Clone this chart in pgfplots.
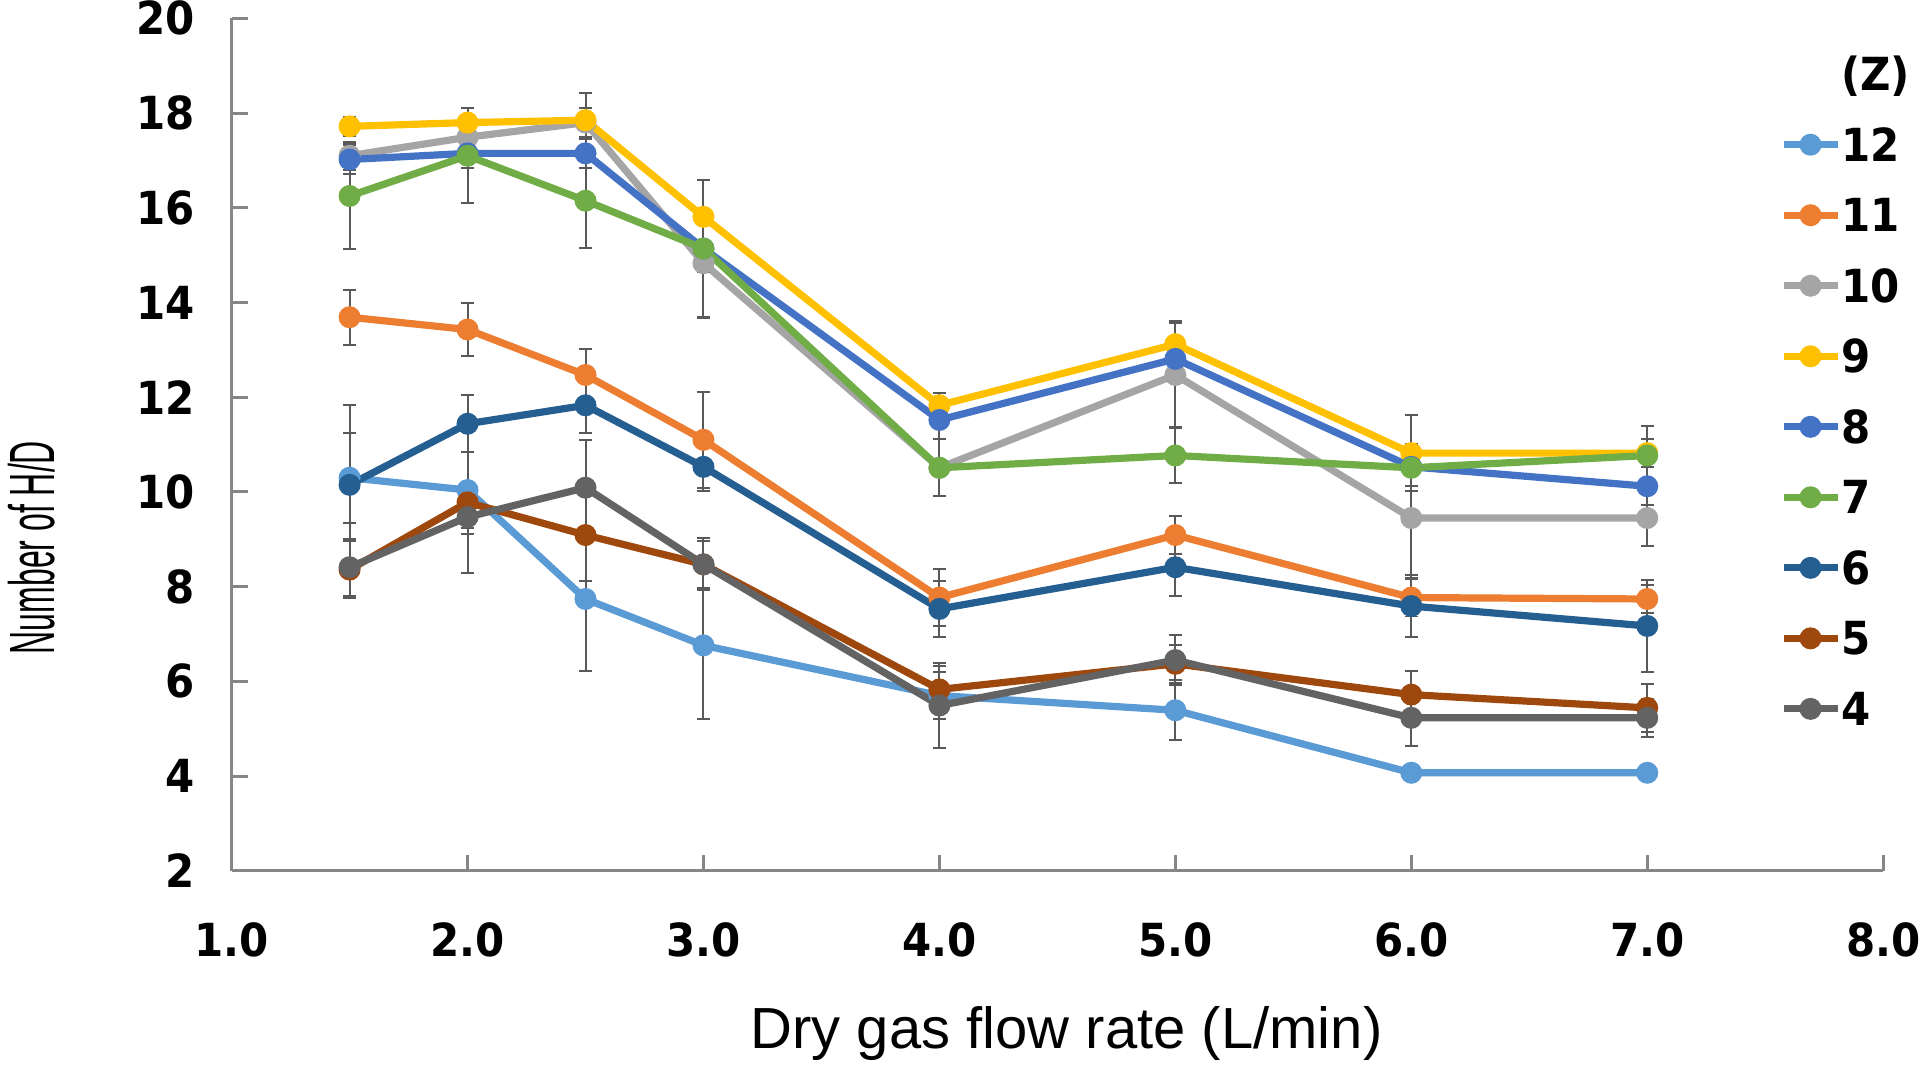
\documentclass[border=0pt]{standalone}
\usepackage{fontspec}
\usepackage{graphicx}
\usepackage{pgfplots}
\pgfplotsset{compat=1.18}
\setmainfont{Liberation Sans}
\newfontfamily\tickfam{DejaVu Sans}[FakeStretch=0.92]
\newcommand\tickfont{\tickfam\bfseries\fontsize{11.4bp}{13bp}\selectfont}

\definecolor{c12}{HTML}{5B9BD5}
\definecolor{c11}{HTML}{ED7D31}
\definecolor{c10}{HTML}{A5A5A5}
\definecolor{c9}{HTML}{FFC000}
\definecolor{c8}{HTML}{4472C4}
\definecolor{c7}{HTML}{70AD47}
\definecolor{c6}{HTML}{255E91}
\definecolor{c5}{HTML}{9E480E}
\definecolor{c4}{HTML}{636363}
\definecolor{errc}{HTML}{595959}
\definecolor{axisc}{HTML}{868686}

\pgfplotsset{
  ser/.style={
    color=#1, line width=1.8bp,
    mark=*, mark size=2.5bp, mark options={solid, fill=#1, draw=#1, line width=0.5bp},
    error bars/.cd, y dir=both, y explicit,
    error bar style={color=errc, line width=0.5bp},
    error mark options={color=errc, line width=0.5bp, mark size=1.6bp, rotate=90},
  },
}

\begin{document}
\begin{tikzpicture}
\path[use as bounding box] (0,0) rectangle (480bp,267bp);
\begin{axis}[
    at={(57.9bp,49.3bp)}, anchor=south west,
    scale only axis, width=412.9bp, height=213.1bp,
    xmin=1, xmax=8, ymin=2, ymax=20,
    xtick={1,2,...,8}, ytick={2,4,...,20},
    axis lines*=left,
    axis line style={color=axisc, line width=0.75bp},
    tick align=inside, major tick length=4bp,
    tick style={color=axisc, line width=0.75bp},
    /pgf/number format/assume math mode=true,
    xticklabel={\pgfmathprintnumber[fixed,fixed zerofill,precision=1]{\tick}},
    xticklabel style={font=\tickfont, anchor=north, inner sep=0pt, yshift=-12.75bp},
    yticklabel style={font=\tickfont, anchor=east, inner sep=0pt, xshift=-9bp},
    xlabel={Dry gas flow rate (L/min)},
    xlabel style={font=\fontsize{14.5bp}{16bp}\selectfont, at={(rel axis cs:0.5,0)}, anchor=base, yshift=-44.5bp, xshift=2.3bp},
    legend cell align=left,
    legend image code/.code={
      \draw[mark repeat=2, mark phase=2, #1] plot coordinates {(0bp,0bp) (6.75bp,0bp) (13.5bp,0bp)};
    },
    legend style={
      draw=none, fill=none, font=\tickfont,
      at={(rel axis cs:0.937,1)}, anchor=north west, yshift=-9.6bp,
      inner sep=0pt, row sep=9.33bp,
      nodes={inner sep=0pt, text height=8.3bp, text depth=0pt},
      /tikz/every even column/.append style={column sep=2.5bp},
    },
  ]
  \addlegendimage{empty legend}
  \addlegendentry{(Z)}

  \addplot[ser=c12] table[x=x, y=y, y error=e] {
    x   y     e
    1.5 10.30 0.95
    2.0 10.04 0.80
    2.5 7.74  1.52
    3.0 6.76  1.56
    4.0 5.70  0.50
    5.0 5.39  0.63
    6.0 4.07  0
    7.0 4.07  0
  };
  \addlegendentry{12}

  \addplot[ser=c11] table[x=x, y=y, y error=e] {
    x   y     e
    1.5 13.69 0.58
    2.0 13.43 0.56
    2.5 12.47 0.54
    3.0 11.10 1.02
    4.0 7.77  0.60
    5.0 9.09  0.40
    6.0 7.77  0.40
    7.0 7.74  0.30
  };
  \addlegendentry{11}

  \addplot[ser=c10] table[x=x, y=y, y error=e] {
    x   y     e
    1.5 17.10 0.30
    2.0 17.49 0.30
    2.5 17.80 0.30
    3.0 14.83 1.15
    4.0 10.51 0.60
    5.0 12.47 1.10
    6.0 9.45  1.27
    7.0 9.45  0.60
  };
  \addlegendentry{10}

  \addplot[ser=c9] table[x=x, y=y, y error=e] {
    x   y     e
    1.5 17.72 0.20
    2.0 17.80 0.30
    2.5 17.85 0.57
    3.0 15.81 0.78
    4.0 11.83 0.27
    5.0 13.12 0.50
    6.0 10.82 0.80
    7.0 10.82 0.30
  };
  \addlegendentry{9}

  \addplot[ser=c8] table[x=x, y=y, y error=e] {
    x   y     e
    1.5 17.02 0.30
    2.0 17.15 0.30
    2.5 17.15 0.30
    3.0 15.14 0.50
    4.0 11.52 0.40
    5.0 12.81 0.30
    6.0 10.53 0.40
    7.0 10.12 0.40
  };
  \addlegendentry{8}

  \addplot[ser=c7] table[x=x, y=y, y error=e] {
    x   y     e
    1.5 16.25 1.12
    2.0 17.10 1.00
    2.5 16.15 1.00
    3.0 15.14 1.45
    4.0 10.51 0.60
    5.0 10.77 0.58
    6.0 10.51 0.50
    7.0 10.77 0.62
  };
  \addlegendentry{7}

  \addplot[ser=c6] table[x=x, y=y, y error=e] {
    x   y     e
    1.5 10.15 1.69
    2.0 11.44 0.60
    2.5 11.83 0.58
    3.0 10.53 0.50
    4.0 7.53  0.60
    5.0 8.41  0.60
    6.0 7.59  0.66
    7.0 7.17  0.97
  };
  \addlegendentry{6}

  \addplot[ser=c5] table[x=x, y=y, y error=e] {
    x   y     e
    1.5 8.36  0.60
    2.0 9.78  1.50
    2.5 9.09  0.97
    3.0 8.47  0.55
    4.0 5.83  0.50
    5.0 6.37  0.40
    6.0 5.72  0.50
    7.0 5.44  0.50
  };
  \addlegendentry{5}

  \addplot[ser=c4] table[x=x, y=y, y error=e] {
    x   y     e
    1.5 8.41  0.60
    2.0 9.47  0.35
    2.5 10.09 1.00
    3.0 8.47  0.50
    4.0 5.49  0.90
    5.0 6.45  0.53
    6.0 5.23  0.60
    7.0 5.23  0.40
  };
  \addlegendentry{4}
\end{axis}
\node[rotate=90, anchor=center, inner sep=0pt, font=\fontsize{16bp}{18bp}\selectfont]
  at (7.9bp,130.1bp) {\scalebox{0.5}[1]{Number of H/D}};
\end{tikzpicture}
\end{document}
